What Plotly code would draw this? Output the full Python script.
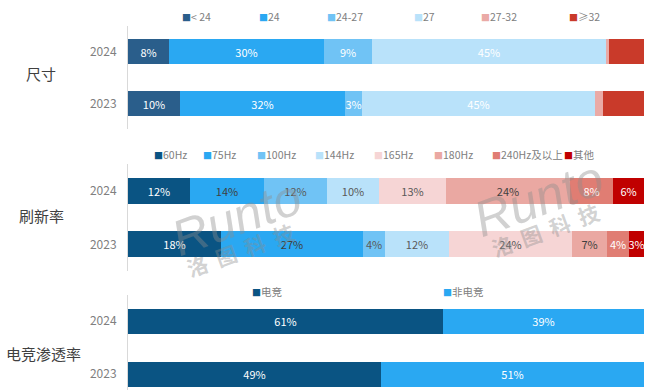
import plotly.graph_objects as go

W, H = 648, 390
FONT = "Noto Sans CJK SC, Liberation Sans, sans-serif"

years = ["2023", "2024"]  # bottom to top

# ---- Panel 1: 尺寸 ----
size_cats = ["< 24", "24", "24-27", "27", "27-32", "≥32"]
size_2024 = [8, 30, 9.2, 45.4, 0.6, 6.8]
size_2023 = [10, 32, 3.4, 45, 1.6, 8.0]
size_colors = ["#2a5e8b", "#2aa8f2", "#70c3f5", "#b9e2fa", "#eaaaa6", "#c93a2a"]
size_textcolors = ["white", "white", "white", "white", "white", "white"]
size_labeled = [True, True, True, True, False, False]

# ---- Panel 2: 刷新率 ----
hz_cats = ["60Hz", "75Hz", "100Hz", "144Hz", "165Hz", "180Hz", "240Hz及以上", "其他"]
hz_2024 = [12, 14.4, 12.2, 10, 12.9, 24.1, 8.4, 6]
hz_2023 = [18.1, 27.4, 4.3, 12.4, 23.7, 6.8, 4.4, 2.9]
hz_colors = ["#0a5483", "#2aa8f2", "#70c3f5", "#b9e2fa", "#f6d5d5", "#eaa8a2", "#e07d73", "#c00000"]
hz_textcolors = ["white", "#404040", "#595959", "#595959", "#595959", "#404040", "white", "white"]
hz_labeled = [True] * 8

# ---- Panel 3: 电竞渗透率 ----
es_cats = ["电竞", "非电竞"]
es_2024 = [61, 39]
es_2023 = [49, 51]
es_colors = ["#0a5483", "#2aa8f2"]
es_textcolors = ["white", "white"]
es_labeled = [True, True]

panels = [
    dict(cats=size_cats, v24=size_2024, v23=size_2023, colors=size_colors,
         tcol=size_textcolors, lab=size_labeled, title="尺寸"),
    dict(cats=hz_cats, v24=hz_2024, v23=hz_2023, colors=hz_colors,
         tcol=hz_textcolors, lab=hz_labeled, title="刷新率"),
    dict(cats=es_cats, v24=es_2024, v23=es_2023, colors=es_colors,
         tcol=es_textcolors, lab=es_labeled, title="电竞渗透率"),
]

# layout geometry (pixels)
x0, x1 = 128, 645.5
panel_px = [(26.25, 129.25, [-0.5, 1.5]), (164.25, 271.25, [-0.5, 1.5]), (294.5, 390, [-0.302, 1.5])]
legend_y = [17, 155, 291]
legend_x = [
    [180, 257, 325, 412, 479, 567],
    [152, 201, 255, 313, 372, 432, 490, 562],
    [250, 441],
]
title_pos = [(41, 73), (41.5, 215), (43, 353)]

def py(p):
    return 1 - p / H

fig = go.Figure()
annotations = []
for i, P in enumerate(panels):
    ax = "" if i == 0 else str(i + 1)
    for j, c in enumerate(P["cats"]):
        vals = [P["v23"][j], P["v24"][j]]
        txt = [f"{round(v)}%" if P["lab"][j] else "" for v in vals]
        fig.add_trace(go.Bar(
            y=years, x=vals, orientation="h", name=c,
            marker=dict(color=P["colors"][j], line=dict(width=0)),
            text=txt, textposition="inside", insidetextanchor="middle",
            textangle=0,
            textfont=dict(color=P["tcol"][j], size=11, family=FONT),
            constraintext="none", cliponaxis=False,
            width=0.48, showlegend=False,
            xaxis="x" + ax, yaxis="y" + ax,
        ))
        # legend entry
        annotations.append(dict(
            xref="paper", yref="paper", x=legend_x[i][j] / W, y=py(legend_y[i]),
            xanchor="left", yanchor="middle", showarrow=False,
            text=f"<span style='color:{P['colors'][j]};font-size:9px'>■</span>{c}",
            font=dict(size=10.5, color="#808080", family=FONT),
        ))
    top, bot, rng = panel_px[i]
    fig.update_layout(**{
        "xaxis" + ax: dict(domain=[x0 / W, x1 / W], range=[0, 100.2], visible=False,
                           anchor="y" + ax, fixedrange=True, automargin=False),
        "yaxis" + ax: dict(domain=[py(bot), py(top)], range=rng, type="category",
                           categoryorder="array", categoryarray=years,
                           anchor="x" + ax, showline=True, linecolor="#d9d9d9",
                           linewidth=1, showgrid=False, ticks="",
                           ticklabelstandoff=8, automargin=False, fixedrange=True,
                           tickfont=dict(size=12, color="#808080", family=FONT)),
    })
    tx, ty = title_pos[i]
    annotations.append(dict(
        xref="paper", yref="paper", x=tx / W, y=py(ty), xanchor="center", yanchor="middle",
        showarrow=False, text=P["title"], font=dict(size=15, color="#404040", family=FONT),
    ))

# watermarks
NB = "\u00a0\u00a0"
for (rx, ry, cx, cy) in [(236, 218, 240, 250), (538, 199, 545, 230)]:
    annotations.append(dict(
        xref="paper", yref="paper", x=rx / W, y=py(ry), xanchor="center", yanchor="middle",
        showarrow=False, text="<i>Runto</i>", textangle=-20,
        font=dict(size=50, color="rgba(140,140,140,0.4)", family="Liberation Sans"),
    ))
    annotations.append(dict(
        xref="paper", yref="paper", x=cx / W, y=py(cy), xanchor="center", yanchor="middle",
        showarrow=False, text="<b>" + NB.join(["洛", "图", "科", "技"]) + "</b>", textangle=-20,
        font=dict(size=21, color="rgba(140,140,140,0.4)", family=FONT),
    ))

fig.update_layout(
    width=W, height=H, margin=dict(l=0, r=0, t=0, b=0, autoexpand=False),
    barmode="stack", bargap=0,
    paper_bgcolor="white", plot_bgcolor="white",
    annotations=annotations, showlegend=False,
    font=dict(family=FONT),
    uniformtext=dict(minsize=8, mode="show"),
)

fig.write_html(
    "out.html",
    config={"displayModeBar": False},
    post_script="document.body.style.margin='0';document.body.style.overflow='hidden';",
)
